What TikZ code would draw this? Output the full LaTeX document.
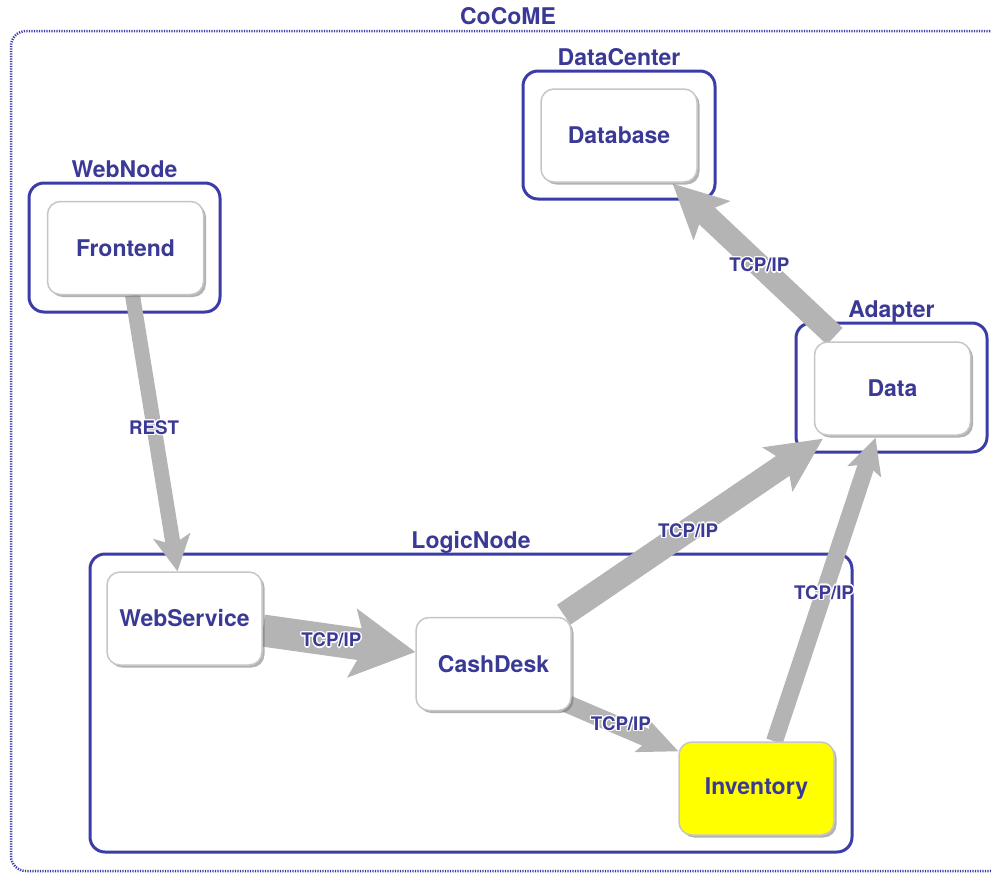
\documentclass[tikz,border=0pt]{standalone}
\usepackage{fontspec}
\setmainfont{TeX Gyre Heros}
\usetikzlibrary{arrows.meta,shadows,calc}

\definecolor{ink}{RGB}{58,58,150}
\definecolor{frame}{RGB}{60,60,168}
\definecolor{flowgray}{RGB}{180,180,180}
\definecolor{boxline}{RGB}{198,198,198}
\definecolor{hilite}{RGB}{255,255,0}

\pgfdeclarelayer{back}
\pgfdeclarelayer{flows}
\pgfsetlayers{back,flows,main}

% text with a thin white halo, so it stays readable on top of the grey flows
\newcommand\glow[1]{%
  \leavevmode
  \rlap{\color{white}%
    \rlap{\kern-1.4pt#1}\rlap{\kern1.4pt#1}%
    \rlap{\raisebox{1.4pt}{#1}}\rlap{\raisebox{-1.4pt}{#1}}%
    \rlap{\kern-1pt\raisebox{1pt}{#1}}\rlap{\kern1pt\raisebox{1pt}{#1}}%
    \rlap{\kern-1pt\raisebox{-1pt}{#1}}\rlap{\kern1pt\raisebox{-1pt}{#1}}}%
  #1}

\begin{document}
\begin{tikzpicture}[x=1pt,y=-1pt,
  every node/.style={font=\bfseries\fontsize{23}{23}\selectfont, text=ink},
  comp/.style={draw=boxline, line width=1.5pt, fill=white, rounded corners=13pt,
    minimum width=156pt, minimum height=93pt, inner sep=0pt,
    drop shadow={shadow xshift=2.5pt, shadow yshift=-2.5pt, fill=black!55, opacity=0.55}},
  host/.style={draw=frame, line width=3pt, rounded corners=15pt,
    minimum width=191pt, minimum height=129pt, inner sep=0pt},
  hostname/.style={anchor=base, inner sep=0pt},
  system/.style={draw=frame, line width=2.5pt, dash pattern=on 1.2pt off 1.3pt,
    rounded corners=15pt, inner sep=0pt},
  tag/.style={font=\bfseries\fontsize{18.7}{18.7}\selectfont, text=ink, inner sep=0pt},
  flow/.style n args={4}{draw=flowgray, line width=#1,
    -{Stealth[length=#2, width=#3, inset=#4, line width=0pt]}}
]
\useasboundingbox (0,0) rectangle (991,876);

% components
\node[comp] (fe) at (125.5,248) {Frontend};
\node[comp] (db) at (619,135.5) {Database};
\node[comp] (dt) at (892.5,388.5) {Data};
\node[comp, minimum width=155pt] (ws) at (184.5,618.5) {WebService};
\node[comp, minimum width=155pt] (cd) at (493.5,664) {CashDesk};
\node[comp, minimum width=155pt, fill=hilite] (inv) at (756.5,788.5) {Inventory};

% hosts and the enclosing system
\begin{pgfonlayer}{back}
  \node[system, minimum width=994pt, minimum height=840pt] (sys) at (508,451) {};
  \node[hostname] at ([yshift=5pt]sys.north) {CoCoME};
  \node[host] (wn) at (124.5,247.5) {};
  \node[hostname] at ([yshift=4.5pt]wn.north) {WebNode};
  \node[host, minimum width=192pt, minimum height=128pt] (dc) at (619,135) {};
  \node[hostname] at ([yshift=4.5pt]dc.north) {DataCenter};
  \node[host] (ad) at (891.5,387.5) {};
  \node[hostname] at ([yshift=4.5pt]ad.north) {Adapter};
  \node[host, minimum width=762pt, minimum height=298pt] (ln) at (471,703) {};
  \node[hostname] at ([yshift=4.5pt]ln.north) {LogicNode};
\end{pgfonlayer}

% communication links
\begin{pgfonlayer}{flows}
  \draw[flow={15pt}{36pt}{38pt}{9pt}]
    ([xshift=7pt]fe.south) -- node[tag, pos=0.48] {\glow{REST}} ([xshift=-7pt]ws.north);
  \draw[flow={32pt}{64pt}{70pt}{14pt}]
    ([yshift=-12pt]ws.east) -- node[tag, pos=0.45] {\glow{TCP/IP}} ([yshift=12pt]cd.west);
  \draw[flow={24pt}{55pt}{54pt}{12pt}]
    ([xshift=-8pt,yshift=2pt]cd.north east) -- node[tag, pos=0.48] {\glow{TCP/IP}}
    ([xshift=9pt,yshift=-3pt]dt.south west);
  \draw[flow={18pt}{40pt}{36pt}{9pt}]
    ([xshift=-6pt,yshift=8pt]cd.south east) -- node[tag, pos=0.49, yshift=3pt] {\glow{TCP/IP}}
    ([yshift=-10pt]inv.north west);
  \draw[flow={17pt}{36pt}{36pt}{8pt}]
    ([xshift=18pt]inv.north) -- node[tag, pos=0.49] {\glow{TCP/IP}}
    ([xshift=-17pt,yshift=-2pt]dt.south);
  \draw[flow={23pt}{54pt}{54pt}{12pt}]
    ([xshift=21pt,yshift=5pt]dt.north west) -- node[tag, pos=0.466] {\glow{TCP/IP}}
    ([xshift=-25pt,yshift=-1pt]db.south east);
\end{pgfonlayer}
\end{tikzpicture}
\end{document}
